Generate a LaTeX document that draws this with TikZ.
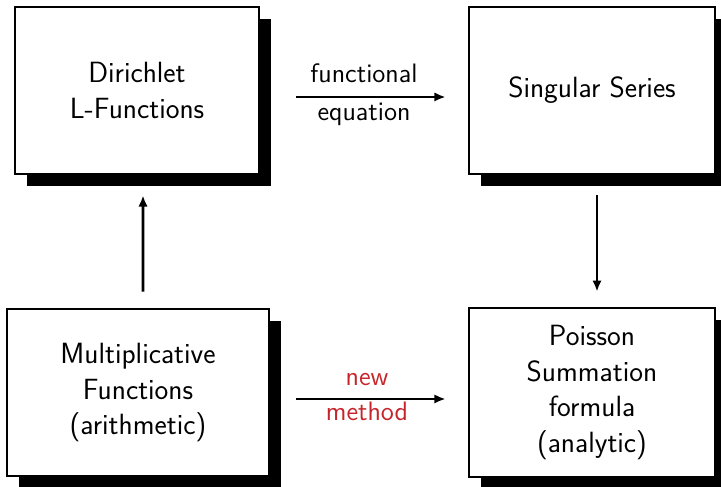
\documentclass[tikz,border=0pt]{standalone}
\usetikzlibrary{shadows,arrows.meta}
\definecolor{labred}{RGB}{198,36,42}
\begin{document}
\begin{tikzpicture}[x=0.54pt,y=-0.54pt,
  box/.style={draw=black, line width=1.5pt, fill=white, align=center,
    font=\sffamily\fontsize{15.8}{19.3}\selectfont, inner sep=0pt,
    drop shadow={shadow xshift=6.5pt, shadow yshift=-6.5pt, fill=black, opacity=1}},
  arr/.style={line width=1.45pt, -{Latex[length=6pt,width=5pt]}},
  lab/.style={font=\sffamily\Large, anchor=base, inner sep=0pt}]
\useasboundingbox (0,0) rectangle (721,486);
\node[box, minimum width=244*0.54pt, minimum height=167*0.54pt] (TL) at (137,90.5) {Dirichlet\\L-Functions};
\node[box, minimum width=246*0.54pt, minimum height=167*0.54pt] (TR) at (592,90.5) {Singular Series};
\node[box, minimum width=262*0.54pt, minimum height=167*0.54pt] (BL) at (138,392.5) {Multiplicative\\Functions\\(arithmetic)};
\node[box, minimum width=246*0.54pt, minimum height=169*0.54pt] (BR) at (592,392.5) {Poisson\\Summation\\formula\\(analytic)};
\draw[arr] ([xshift=2.7pt,yshift=8.6pt]BL.north) -- ([xshift=3.24pt,yshift=-10.8pt]TL.south);
\draw[arr] ([xshift=2.7pt,yshift=-10.8pt]TR.south) -- ([xshift=2.7pt,yshift=8.1pt]BR.north);
\draw[arr] ([xshift=19.4pt,yshift=-3.5pt]TL.east) -- ([xshift=-11.9pt,yshift=-3.5pt]TR.west);
\draw[arr] ([xshift=14pt,yshift=-3.5pt]BL.east) -- ([xshift=-11.9pt,yshift=-3.5pt]BR.west);
\node[lab] (l1) at (364,82) {functional};
\node[lab] (l2) at (364,120) {equation};
\node[lab, text=labred] (l3) at (367,385) {new};
\node[lab, text=labred] (l4) at (367,420) {method};
\end{tikzpicture}
\end{document}
